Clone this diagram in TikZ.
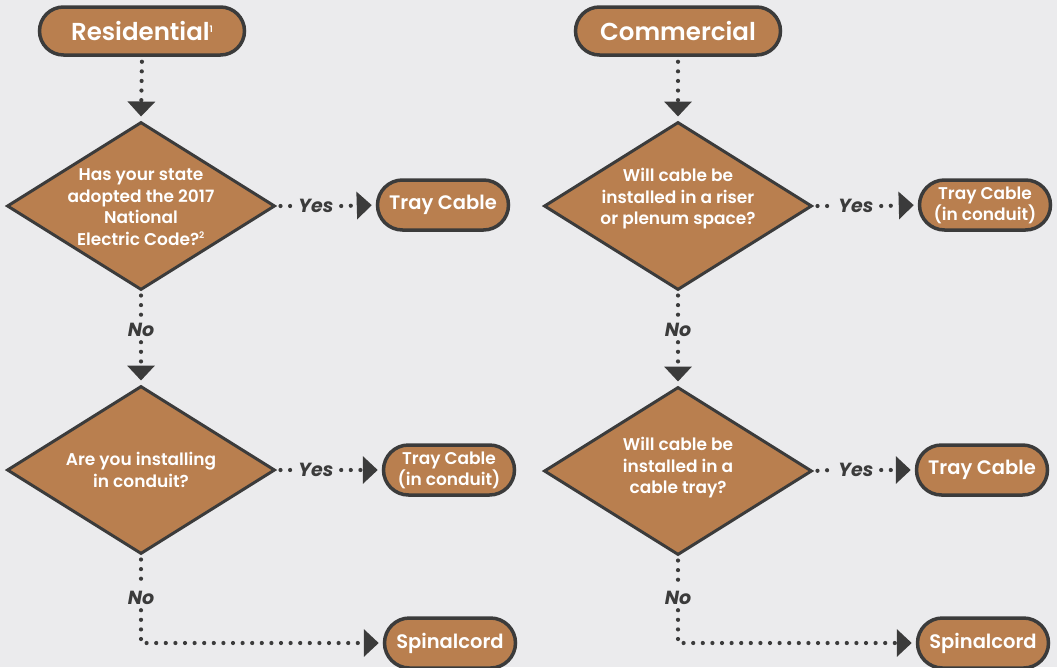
\documentclass[tikz,border=0pt]{standalone}
\usepackage{fontspec}
\setmainfont{Poppins}[BoldFont={Poppins SemiBold}, BoldItalicFont={Poppins Bold Italic}]
\usetikzlibrary{arrows.meta,shapes.geometric}
\definecolor{bg}{HTML}{EBEBED}
\definecolor{brown}{HTML}{B97F4F}
\definecolor{dark}{HTML}{3B3B3B}
\tikzset{
  pill/.style={draw=dark, line width=3.5pt, fill=brown, rounded corners=24pt, minimum width=205pt, minimum height=48pt, text=white, font=\fontsize{24.5}{28}\selectfont\bfseries, inner sep=0pt},
  box/.style={draw=dark, line width=3.5pt, fill=brown, rounded corners=25pt, minimum width=131pt, minimum height=50pt, text=white, font=\fontsize{19.5}{21}\selectfont\bfseries, align=center, inner sep=0pt},
  box2/.style={box, font=\fontsize{17}{19.5}\selectfont\bfseries},
  dia/.style={diamond, draw=dark, line width=3pt, fill=brown, minimum width=268pt, minimum height=168pt, inner sep=0pt},
  dtext/.style={text=white, font=\fontsize{17}{21.5}\selectfont\bfseries, align=center, inner sep=0pt},
  lab/.style={text=dark, font=\fontsize{19}{20}\selectfont\bfseries\itshape, inner sep=0pt, minimum width=50pt, minimum height=24pt},
  dots/.style={draw=dark, line width=4.2pt, line cap=round, dash pattern=on 0pt off 9.6pt},
  arr/.style={dots, -{Triangle[width=27pt,length=15pt]}},
}
\begin{document}
\begin{tikzpicture}[x=1pt,y=-1pt]
\fill[bg] (0,0) rectangle (1057,667);
\useasboundingbox (0,0) rectangle (1057,667);
% Residential column
\node[pill] (res) at (142,31) {Residential\raisebox{8pt}{\fontsize{9}{9}\selectfont 1}};
\node[dia] (rd1) at (141,206) {};
\node[dtext] (rd1t) at (141,207) {Has your state\\adopted the 2017\\National\\Electric Code?\textsuperscript{\fontsize{9}{9}\selectfont 2}};
\node[dia] (rd2) at (141,470) {};
\node[dtext] (rd2t) at (141,470) {Are you installing\\in conduit?};
\node[box] (rt1) at (443,205) {Tray Cable};
\node[box2] (rt2) at (449,470) {Tray Cable\\(in conduit)};
\node[box] (rs) at (450,643) {Spinalcord};
\node[lab] (ry1) at (316,206) {Yes};
\node[lab] (ry2) at (316,470) {Yes};
\node[lab] (rn1) at (141,330) {No};
\node[lab] (rn2) at (141,598) {No};
% Commercial column
\node[pill] (com) at (678,31) {Commercial};
\node[dia] (cd1) at (678,206) {};
\node[dtext] (cd1t) at (678,199) {Will cable be\\installed in a riser\\or plenum space?};
\node[dia] (cd2) at (678,471) {};
\node[dtext] (cd2t) at (678,468) {Will cable be\\installed in a\\cable tray?};
\node[box2] (ct1) at (985,205) {Tray Cable\\(in conduit)};
\node[box] (ct2) at (982,470) {Tray Cable};
\node[box] (cs) at (983,643) {Spinalcord};
\node[lab] (cy1) at (856,206) {Yes};
\node[lab] (cy2) at (856,470) {Yes};
\node[lab] (cn1) at (678,330) {No};
\node[lab] (cn2) at (678,598) {No};
% connectors residential
\draw[arr, shorten <=5pt, shorten >=4pt] (res.south) -- (rd1.north);
\draw[dots, shorten <=4pt] (rd1.east) -- (ry1.west);
\draw[arr, shorten >=4pt] (ry1.east) -- (rt1.west);
\draw[dots, shorten <=4pt] (rd1.south) -- (rn1.north);
\draw[arr, shorten >=4pt] (rn1.south) -- (rd2.north);
\draw[dots, shorten <=4pt] (rd2.east) -- (ry2.west);
\draw[arr, shorten >=4pt] (ry2.east) -- (rt2.west);
\draw[dots, shorten <=4pt] (rd2.south) -- (rn2.north);
\draw[arr, shorten >=4pt] (rn2.south) |- (rs.west);
% connectors commercial
\draw[arr, shorten <=5pt, shorten >=4pt] (com.south) -- (cd1.north);
\draw[dots, shorten <=4pt] (cd1.east) -- (cy1.west);
\draw[arr, shorten >=4pt] (cy1.east) -- (ct1.west);
\draw[dots, shorten <=4pt] (cd1.south) -- (cn1.north);
\draw[arr, shorten >=4pt] (cn1.south) -- (cd2.north);
\draw[dots, shorten <=4pt] (cd2.east) -- (cy2.west);
\draw[arr, shorten >=4pt] (cy2.east) -- (ct2.west);
\draw[dots, shorten <=4pt] (cd2.south) -- (cn2.north);
\draw[arr, shorten >=4pt] (cn2.south) |- (cs.west);
\end{tikzpicture}
\end{document}
